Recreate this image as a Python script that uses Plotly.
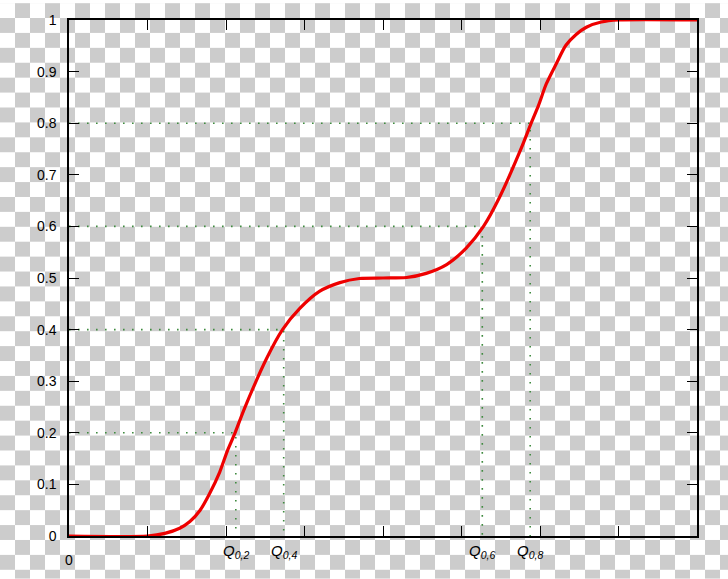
import base64
import plotly.graph_objects as go

########################
# Data
cdf_x = [0, 1.0, 1.22, 1.41, 1.54, 1.67, 1.79, 1.92, 2.02, 2.11, 2.24, 2.52, 2.72, 2.94,
         3.19, 3.45, 3.70, 4.0, 4.30, 4.55, 4.81, 5.06, 5.28, 5.48, 5.76, 5.89, 5.98,
         6.08, 6.21, 6.33, 6.46, 6.59, 6.78, 7.0, 8.0]
cdf_y = [0, 0, 0.005, 0.015, 0.028, 0.05, 0.082, 0.124, 0.166, 0.198, 0.249, 0.345,
         0.40, 0.441, 0.474, 0.491, 0.499, 0.5, 0.501, 0.509, 0.526, 0.558, 0.6, 0.655,
         0.751, 0.801, 0.834, 0.876, 0.916, 0.951, 0.972, 0.986, 0.996, 1.0, 1.0]

quant_p = [0.2, 0.4, 0.6, 0.8]
quant_x = [2.125, 2.735, 5.265, 5.875]
quant_labels = ["0,2", "0,4", "0,6", "0,8"]

x_ticks = [0, 1, 2, 3, 4, 5, 6, 7, 8]
origin_label = "0"
y_ticks = [0, 0.1, 0.2, 0.3, 0.4, 0.5, 0.6, 0.7, 0.8, 0.9, 1]
y_ticktext = ["0", "0.1", "0.2", "0.3", "0.4", "0.5", "0.6", "0.7", "0.8", "0.9", "1"]
########################

W, H = 728, 579
ml, mr, mt, mb = 69, 31, 17, 43
pw, ph = W - ml - mr, H - mt - mb
FONT = "Liberation Sans"

# checkerboard backdrop (transparent png look)
svg = (
    f'<svg xmlns="http://www.w3.org/2000/svg" width="{W}" height="{H}">'
    '<defs><pattern id="c" width="30" height="30" patternUnits="userSpaceOnUse">'
    '<rect width="30" height="30" fill="#ffffff"/>'
    '<rect x="15" width="15" height="15" fill="#cccccc"/>'
    '<rect y="15" width="15" height="15" fill="#cccccc"/>'
    '</pattern></defs>'
    f'<rect width="{W}" height="{H}" fill="url(#c)"/></svg>'
)
bg_src = "data:image/svg+xml;base64," + base64.b64encode(svg.encode()).decode()

# dotted guides from the axes to the curve
gx, gy = [], []
for p, q in zip(quant_p, quant_x):
    gx += [0, q, q, None]
    gy += [p, p, 0, None]

fig = go.Figure()
fig.add_trace(go.Scatter(
    x=gx, y=gy, mode="lines",
    line=dict(color="#3f8a3f", width=1.6, dash="1.6px,7.4px"),
    hoverinfo="skip", showlegend=False,
))
fig.add_trace(go.Scatter(
    x=cdf_x, y=cdf_y, mode="lines",
    line=dict(color="#ee0000", width=3.2, shape="spline", smoothing=0.8),
    cliponaxis=False, showlegend=False,
))

for q, lab in zip(quant_x, quant_labels):
    fig.add_annotation(
        x=q, y=0, xref="x", yref="y", yanchor="top", yshift=-4,
        text=f"<i>Q<sub>{lab}</sub></i>",
        showarrow=False, font=dict(family=FONT, size=15, color="black"),
    )

# the lone "0" under the origin
fig.add_annotation(
    x=x_ticks[0], y=0, xref="x", yref="y", yanchor="top", yshift=-14,
    text=origin_label, showarrow=False, font=dict(family=FONT, size=14, color="black"),
)

axis_common = dict(
    showgrid=False, zeroline=False, showline=True, linecolor="black", linewidth=1.5,
    mirror="ticks", ticks="inside", ticklen=10, tickwidth=1.3, tickcolor="black",
    tickfont=dict(family=FONT, size=14, color="black"),
)

fig.update_layout(
    width=W, height=H,
    margin=dict(l=ml, r=mr, t=mt, b=mb, pad=0),
    paper_bgcolor="rgba(0,0,0,0)", plot_bgcolor="rgba(0,0,0,0)",
    xaxis=dict(range=[0, 8], tickvals=x_ticks, showticklabels=False, **axis_common),
    yaxis=dict(range=[0, 1], tickvals=y_ticks, ticktext=y_ticktext,
               ticklabelstandoff=8, **axis_common),
    images=[dict(
        source=bg_src, xref="paper", yref="paper",
        x=-ml / pw, y=1 + mt / ph, sizex=W / pw, sizey=H / ph,
        xanchor="left", yanchor="top", sizing="stretch", layer="below",
    )],
)

fig.write_html(
    "out.html",
    config={"displayModeBar": False},
    post_script="document.body.style.margin='0';document.body.style.overflow='hidden';",
)
